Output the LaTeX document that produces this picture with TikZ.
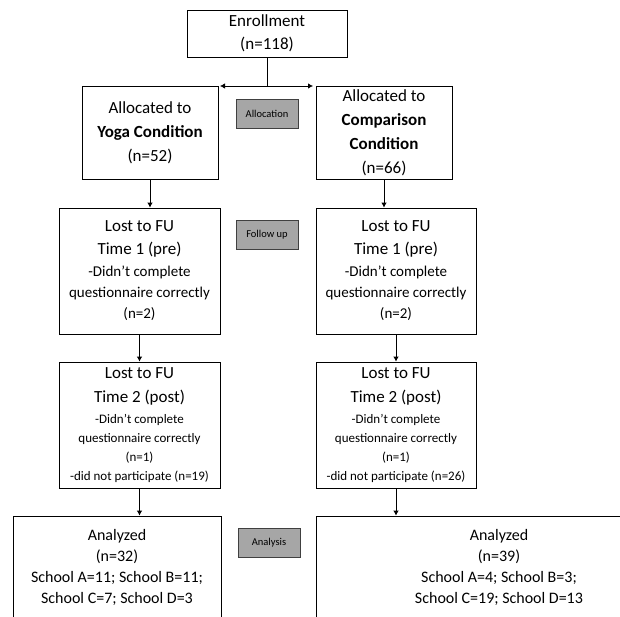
\documentclass[tikz,border=0pt]{standalone}
\usepackage{fontspec}
\setmainfont{Carlito}
\usetikzlibrary{arrows.meta}
\newcommand\headfs{\fontsize{17}{23}\selectfont}

\begin{document}
\begin{tikzpicture}[x=1pt,y=-1pt,
  box/.style={draw, line width=0.8pt, align=center, inner sep=0pt},
  stage/.style={draw=black!75, fill=black!35, line width=0.8pt, font=\fontsize{10.5}{12}\selectfont, minimum width=62, minimum height=29, inner sep=0pt},
  arr/.style={-{Latex[length=5pt,width=5.5pt]}, line width=0.8pt}]
\useasboundingbox (0,0) rectangle (620,616);
\clip (0,0) rectangle (620,616);
\node[box, minimum width=160, minimum height=47, font=\headfs] (enr) at (267,33.5) {Enrollment\\(n=118)};
\node[box, minimum width=136, minimum height=93, font=\headfs] (yoga) at (150,132.5) {Allocated to\\[1pt]\textbf{Yoga Condition}\\[1pt](n=52)};
\node[box, minimum width=136, minimum height=93, font=\fontsize{17}{24}\selectfont] (comp) at (384,132.5) {Allocated to\\\textbf{Comparison}\\\textbf{Condition}\\(n=66)};
\node[stage] (alloc) at (267,113.5) {Allocation};
\coordinate (split) at (267,86);
\coordinate (splitL) at (220,86);
\coordinate (splitR) at (313,86);
\draw[line width=0.8pt] (enr) -- (split);
\draw[arr] (split) -- (splitL);
\draw[arr] (split) -- (splitR);
\node[box, minimum width=161, minimum height=126, font=\fontsize{15}{21}\selectfont] (t1L) at (139.5,271) {{\headfs Lost to FU}\\[2pt]{\headfs Time 1 (pre)}\\[1pt]-Didn’t complete\\questionnaire correctly\\(n=2)};
\node[box, minimum width=160, minimum height=126, font=\fontsize{15}{21}\selectfont] (t1R) at (396,271) {{\headfs Lost to FU}\\[2pt]{\headfs Time 1 (pre)}\\[1pt]-Didn’t complete\\questionnaire correctly\\(n=2)};
\node[stage] (follow) at (267,235) {Follow up};
\draw[arr] (yoga.south) -- (yoga.south |- t1L.north);
\draw[arr] (comp.south) -- (comp.south |- t1R.north);
\node[box, minimum width=161, minimum height=126, font=\fontsize{13}{19}\selectfont] (t2L) at (139.5,425) {{\headfs Lost to FU}\\[5pt]{\headfs Time 2 (post)}\\[2pt]-Didn’t complete\\questionnaire correctly\\(n=1)\\-did not participate (n=19)};
\node[box, minimum width=160, minimum height=126, font=\fontsize{13}{19}\selectfont] (t2R) at (396,425) {{\headfs Lost to FU}\\[5pt]{\headfs Time 2 (post)}\\[2pt]-Didn’t complete\\questionnaire correctly\\(n=1)\\-did not participate (n=26)};
\draw[arr] (t1L) -- (t2L);
\draw[arr] (t1R) -- (t2R);
\node[box, minimum width=208, minimum height=103, font=\fontsize{16}{21}\selectfont] (anL) at (117,567.5) {Analyzed\\(n=32)\\School A=11; School B=11;\\School C=7; School D=3};
\node[box, minimum width=366, minimum height=103, font=\fontsize{16}{21}\selectfont] (anR) at (499,567.5) {Analyzed\\(n=39)\\School A=4; School B=3;\\School C=19; School D=13};
\node[stage] (analysis) at (269,543) {Analysis};
\draw[arr] (t2L.south) -- (t2L.south |- anL.north);
\draw[arr] (t2R.south) -- (t2R.south |- anR.north);
\end{tikzpicture}
\end{document}
